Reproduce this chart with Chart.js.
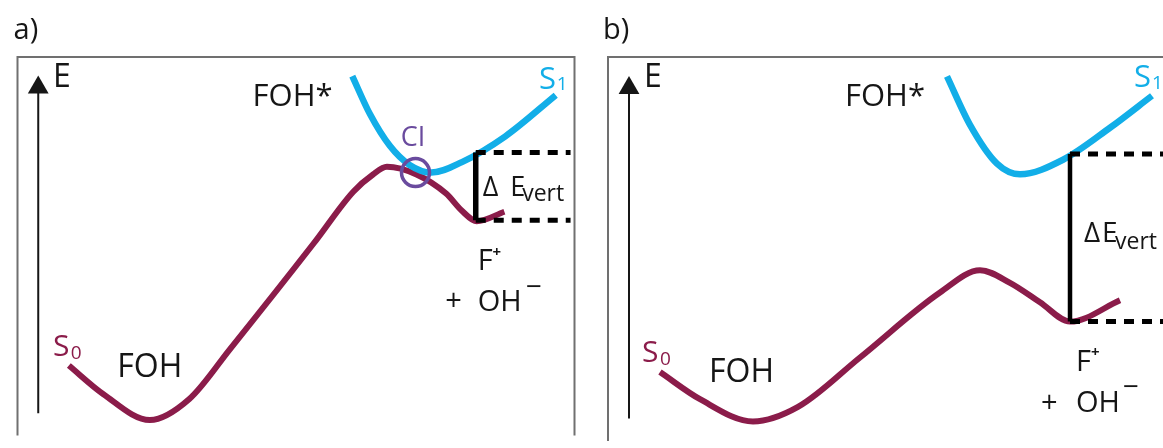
<!DOCTYPE html>
<html>
<head>
<meta charset="utf-8">
<script src="https://cdn.jsdelivr.net/npm/chart.js@4.4.1/dist/chart.umd.min.js"></script>
<style>
  html, body { margin:0; padding:0; background:#fff; width:1163px; height:448px; overflow:hidden; }
  #wrap { position:relative; width:1163px; height:448px; overflow:hidden; }
  canvas { position:absolute; top:0; }
  #cA { left:0; }
  #cB { left:595px; }
</style>
</head>
<body>
<div id="wrap">
  <canvas id="cA" width="592" height="448"></canvas>
  <canvas id="cB" width="590" height="448"></canvas>
</div>
<script>
// ---------- Data (reaction coordinate x, energy E; schematic units) ----------
// Panel a
const aS0X = [52, 87, 134, 174, 215, 300, 340, 360, 374, 404, 434, 450, 465, 493];
const aS0E = [68, 38, 11, 33, 85, 196, 250, 268, 276, 268, 248, 230, 219, 229];
const aS1X = [339, 357, 377, 397, 419, 450, 494, 545];
const aS1E = [371, 331, 298, 278, 270, 281, 308, 351];
const aCIX = [403];
const aCIE = [270];
const aVertX = [464, 464];
const aVertE = [291, 220];
const aLevelX = [464, 560];
const aUpperE = [291, 291];
const aLowerE = [220, 220];

// Panel b
const bS0X = [52, 92, 145, 190, 252, 332, 372, 402, 432, 462, 512];
const bS0E = [66, 38, 15, 30, 81, 148, 171, 158, 138, 118, 140];
const bS1X = [339, 362, 389, 412, 455, 502, 544];
const bS1E = [371, 321, 281, 270, 285, 318, 351];
const bVertX = [462, 462];
const bVertE = [291, 118];
const bLevelX = [462, 600];
const bUpperE = [291, 291];
const bLowerE = [118, 118];

// Energy axis arrow (both panels)
const axisX = [21, 21];
const axisE = [18, 359];

// ---------- Colours ----------
const MAROON = '#8b1c4a';
const CYAN = '#12aee8';
const PURPLE = '#6a4b9e';
const INK = '#161616';
const FONT = '"Open Sans", "Noto Sans", sans-serif';

// ---------- Annotations (text, position in x/E units, size, colour) ----------
const annA = [
  {t:'a)', x:-4, y:410, s:29, c:INK},
  {t:'E', x:36, y:360, s:32, c:INK},
  {t:'FOH*', x:238, y:340, s:31, c:INK},
  {t:'S', x:528, y:358, s:31, c:CYAN},
  {t:'1', x:546, y:356, s:19, c:CYAN},
  {t:'CI', x:388, y:298, s:27, c:PURPLE},
  {t:'\u0394', x:471, y:246, s:27, c:INK},
  {t:'E', x:499, y:246, s:27, c:INK},
  {t:'vert', x:511, y:240, s:23, c:INK},
  {t:'F', x:466, y:168, s:29, c:INK},
  {t:'+', x:481, y:182, s:15, c:INK, b:true},
  {t:'+', x:433, y:126, s:29, c:INK},
  {t:'OH', x:466, y:125, s:29, c:INK},
  {t:'\u2212', x:515, y:141, s:28, c:INK},
  {t:'S', x:36, y:78, s:30, c:MAROON},
  {t:'0', x:54, y:75, s:19, c:MAROON},
  {t:'FOH', x:101, y:56, s:32, c:INK}
];
const annB = [
  {t:'b)', x:-5, y:410, s:29, c:INK},
  {t:'E', x:36, y:360, s:32, c:INK},
  {t:'FOH*', x:237, y:340, s:31, c:INK},
  {t:'S', x:526, y:360, s:31, c:CYAN},
  {t:'1', x:544, y:358, s:19, c:CYAN},
  {t:'\u0394', x:476, y:200, s:28, c:INK},
  {t:'E', x:494, y:200, s:28, c:INK},
  {t:'vert', x:507, y:193, s:23, c:INK},
  {t:'F', x:468, y:67, s:29, c:INK},
  {t:'+', x:483, y:81, s:15, c:INK, b:true},
  {t:'+', x:433, y:25, s:29, c:INK},
  {t:'OH', x:468, y:25, s:29, c:INK},
  {t:'\u2212', x:515, y:41, s:28, c:INK},
  {t:'S', x:34, y:76, s:30, c:MAROON},
  {t:'0', x:52, y:73, s:19, c:MAROON},
  {t:'FOH', x:101, y:56, s:32, c:INK}
];

function pts(xs, ys) { return xs.map((x, i) => ({x: x, y: ys[i]})); }

const frameAndText = {
  id: 'frameAndText',
  beforeDraw(chart) {
    const {ctx, chartArea: a} = chart;
    ctx.save();
    ctx.strokeStyle = '#707070';
    ctx.lineWidth = 2;
    ctx.beginPath();
    ctx.moveTo(a.left, a.bottom + 5);
    ctx.lineTo(a.left, a.top);
    ctx.lineTo(a.right, a.top);
    ctx.lineTo(a.right, a.bottom + 5);
    ctx.stroke();
    ctx.restore();
  },
  afterDatasetsDraw(chart) {
    const {ctx} = chart;
    const xs = chart.scales.x, ys = chart.scales.y;
    const ann = chart.options.plugins.frameAndText.items;
    ctx.save();
    ctx.textBaseline = 'alphabetic';
    ctx.textAlign = 'left';
    ann.forEach(it => {
      ctx.font = (it.b ? 'bold ' : '') + it.s + 'px ' + FONT;
      ctx.fillStyle = it.c;
      ctx.fillText(it.t, xs.getPixelForValue(it.x), ys.getPixelForValue(it.y));
    });
    ctx.restore();
  }
};

function curve(data, color, width) {
  return {data: data, borderColor: color, borderWidth: width, pointRadius: 0,
          cubicInterpolationMode: 'monotone', fill: false, clip: false,
          borderCapStyle: 'butt', borderJoinStyle: 'round'};
}
function straight(data, width, dash) {
  return {data: data, borderColor: '#000', borderWidth: width, pointRadius: 0,
          tension: 0, fill: false, clip: false, borderDash: dash || [], borderCapStyle: 'butt'};
}

function makePanel(id, cfg) {
  const datasets = [];
  if (cfg.ci) {
    datasets.push({data: cfg.ci, showLine: false, pointRadius: 14, pointHoverRadius: 14,
      pointBorderWidth: 3.5, pointBorderColor: PURPLE, pointBackgroundColor: 'rgba(0,0,0,0)', clip: false});
  }
  datasets.push(straight(cfg.vert, cfg.vertW));
  datasets.push(straight(cfg.upper, 5, [10, 8]));
  datasets.push(straight(cfg.lower, 5, [10, 8]));
  datasets.push(curve(cfg.s1, CYAN, 6.5));
  datasets.push(curve(cfg.s0, MAROON, 6));
  datasets.push({data: pts(axisX, axisE), borderColor: INK, borderWidth: 2, tension: 0,
    pointRadius: [0, 12], pointStyle: 'triangle', pointBackgroundColor: INK, pointBorderWidth: 0,
    clip: false});
  return new Chart(document.getElementById(id), {
    type: 'line',
    data: {datasets: datasets},
    options: {
      responsive: false, animation: false, events: [],
      layout: {padding: {left: 13, top: 57, right: cfg.padRight, bottom: 0}},
      scales: {
        x: {type: 'linear', min: 0, max: 564, display: false},
        y: {type: 'linear', min: 0, max: 391, display: false}
      },
      plugins: {legend: {display: false}, tooltip: {enabled: false}, frameAndText: {items: cfg.ann}}
    },
    plugins: [frameAndText]
  });
}

makePanel('cA', {
  s0: pts(aS0X, aS0E), s1: pts(aS1X, aS1E), ci: pts(aCIX, aCIE),
  vert: pts(aVertX, aVertE), vertW: 5.5,
  upper: pts(aLevelX, aUpperE), lower: pts(aLevelX, aLowerE),
  ann: annA, padRight: 15
});
makePanel('cB', {
  s0: pts(bS0X, bS0E), s1: pts(bS1X, bS1E), ci: null,
  vert: pts(bVertX, bVertE), vertW: 4.5,
  upper: pts(bLevelX, bUpperE), lower: pts(bLevelX, bLowerE),
  ann: annB, padRight: 13
});
</script>
</body>
</html>
